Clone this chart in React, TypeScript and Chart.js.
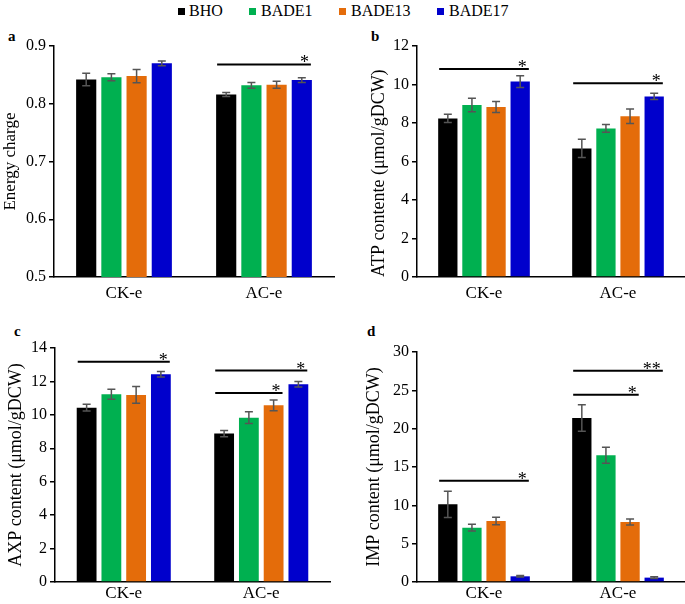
import React, { useEffect, useRef } from 'react';
import { Chart, registerables } from 'chart.js';
Chart.register(...registerables);

const FONT = '"Liberation Serif", "Times New Roman", serif';

const categories = ['CK-e', 'AC-e'];
const seriesNames = ['BHO', 'BADE1', 'BADE13', 'BADE17'];
const seriesColors = ['#000000', '#00B050', '#E46C0A', '#0000CC'];

// a: Energy charge
const ecBHO = [0.842, 0.816];
const ecBADE1 = [0.846, 0.832];
const ecBADE13 = [0.848, 0.833];
const ecBADE17 = [0.870, 0.841];
const ecErrBHO = [0.011, 0.0035];
const ecErrBADE1 = [0.006, 0.005];
const ecErrBADE13 = [0.0115, 0.006];
const ecErrBADE17 = [0.004, 0.004];

// b: ATP content
const atpBHO = [8.24, 6.68];
const atpBADE1 = [8.93, 7.72];
const atpBADE13 = [8.83, 8.35];
const atpBADE17 = [10.15, 9.38];
const atpErrBHO = [0.22, 0.47];
const atpErrBADE1 = [0.35, 0.2];
const atpErrBADE13 = [0.29, 0.38];
const atpErrBADE17 = [0.3, 0.16];

// c: AXP content
const axpBHO = [10.43, 8.88];
const axpBADE1 = [11.23, 9.83];
const axpBADE13 = [11.19, 10.57];
const axpBADE17 = [12.43, 11.83];
const axpErrBHO = [0.2, 0.19];
const axpErrBADE1 = [0.3, 0.35];
const axpErrBADE13 = [0.5, 0.32];
const axpErrBADE17 = [0.16, 0.17];

// d: IMP content
const impBHO = [10.13, 21.39];
const impBADE1 = [7.09, 16.52];
const impBADE13 = [7.96, 7.83];
const impBADE17 = [0.74, 0.57];
const impErrBHO = [1.72, 1.74];
const impErrBADE1 = [0.43, 1.04];
const impErrBADE13 = [0.5, 0.39];
const impErrBADE17 = [0.1, 0.1];

// significance brackets: category index, first/last series index, y value, label
const sigA = [{ cat: 1, from: 0, to: 3, y: 0.868, label: '*' }];
const sigB = [
  { cat: 0, from: 0, to: 3, y: 10.8, label: '*' },
  { cat: 1, from: 0, to: 3, y: 10.06, label: '*' },
];
const sigC = [
  { cat: 0, from: 0, to: 3, y: 13.17, label: '*' },
  { cat: 1, from: 0, to: 3, y: 12.65, label: '*' },
  { cat: 1, from: 0, to: 2, y: 11.31, label: '*' },
];
const sigD = [
  { cat: 0, from: 0, to: 3, y: 13.2, label: '*' },
  { cat: 1, from: 0, to: 3, y: 27.56, label: '**' },
  { cat: 1, from: 0, to: 2, y: 24.43, label: '*' },
];

type Sig = { cat: number; from: number; to: number; y: number; label: string };

interface PanelProps {
  left: number; top: number; width: number; height: number;
  padTop: number; padRight: number; yWidth: number; xHeight: number;
  yMin: number; yMax: number; step: number;
  title: string; titleSize: number; titleOffset: number; titleAlign: 'start' | 'center' | 'end';
  values: number[][]; errors: number[][]; sig: Sig[]; xLabelPad: number;
}

function Panel(p: PanelProps) {
  const ref = useRef<HTMLCanvasElement>(null);
  useEffect(() => {
    const errPlugin = {
      id: 'errBars',
      afterDatasetsDraw(chart: any) {
        const ctx = chart.ctx;
        const ys = chart.scales.y;
        chart.data.datasets.forEach((ds: any, di: number) => {
          const meta = chart.getDatasetMeta(di);
          meta.data.forEach((bar: any, i: number) => {
            const v = ds.data[i];
            const e = p.errors[di][i];
            const t = ys.getPixelForValue(v + e);
            const b = ys.getPixelForValue(v - e);
            ctx.save();
            ctx.strokeStyle = '#555555';
            ctx.lineWidth = 1.5;
            ctx.beginPath();
            ctx.moveTo(bar.x, t); ctx.lineTo(bar.x, b);
            ctx.moveTo(bar.x - 4, t); ctx.lineTo(bar.x + 4, t);
            ctx.moveTo(bar.x - 4, b); ctx.lineTo(bar.x + 4, b);
            ctx.stroke();
            ctx.restore();
          });
        });
      },
    };
    const sigPlugin = {
      id: 'sigLines',
      afterDatasetsDraw(chart: any) {
        const ctx = chart.ctx;
        const ys = chart.scales.y;
        p.sig.forEach((s) => {
          const b0 = chart.getDatasetMeta(s.from).data[s.cat];
          const b1 = chart.getDatasetMeta(s.to).data[s.cat];
          const x0 = b0.x - b0.width / 2 + 1;
          const x1 = b1.x + b1.width / 2 - 1;
          const y = ys.getPixelForValue(s.y);
          ctx.save();
          ctx.strokeStyle = '#000';
          ctx.lineWidth = 2;
          ctx.beginPath();
          ctx.moveTo(x0, y); ctx.lineTo(x1, y);
          ctx.stroke();
          ctx.fillStyle = '#000';
          ctx.font = `18px ${FONT}`;
          ctx.textAlign = 'right';
          ctx.textBaseline = 'alphabetic';
          ctx.fillText(s.label, x1 - 2, y + 4);
          ctx.restore();
        });
      },
    };
    const chart = new Chart(ref.current!, {
      type: 'bar',
      data: {
        labels: categories,
        datasets: seriesNames.map((n, i) => ({
          label: n,
          data: p.values[i],
          backgroundColor: seriesColors[i],
          borderWidth: 0,
          categoryPercentage: 0.72,
          barPercentage: 0.8,
        })),
      },
      options: {
        responsive: false,
        animation: false,
        layout: { padding: { top: p.padTop, right: p.padRight, left: 0, bottom: 0 } },
        plugins: { legend: { display: false }, tooltip: { enabled: false } },
        scales: {
          x: {
            grid: { display: false, drawTicks: false },
            border: { display: true, color: '#000', width: 1.5 },
            ticks: { font: { family: FONT, size: 17 }, color: '#000', padding: p.xLabelPad },
            afterFit: (s: any) => { s.height = p.xHeight; },
          },
          y: {
            min: p.yMin,
            max: p.yMax,
            ticks: { stepSize: p.step, font: { family: FONT, size: 16 }, color: '#000', padding: 3 },
            grid: { drawOnChartArea: false, drawTicks: true, tickLength: 5, color: '#000', lineWidth: 1.5 },
            border: { display: true, color: '#000', width: 1.5 },
            title: {
              display: true,
              text: p.title,
              font: { family: FONT, size: p.titleSize },
              color: '#000',
              padding: { top: p.titleOffset, bottom: 0 },
              align: p.titleAlign,
            },
            afterFit: (s: any) => { s.width = p.yWidth; },
          },
        },
      } as any,
      plugins: [errPlugin, sigPlugin],
    });
    return () => chart.destroy();
  }, []);
  return (
    <canvas
      ref={ref}
      width={p.width}
      height={p.height}
      style={{ position: 'absolute', left: p.left, top: p.top, width: p.width, height: p.height }}
    />
  );
}

const legendPos = [
  { sq: 178, tx: 189 },
  { sq: 249, tx: 261 },
  { sq: 339, tx: 351 },
  { sq: 437, tx: 449 },
];

const letterStyle = (left: number, top: number): React.CSSProperties => ({
  position: 'absolute', left, top, fontFamily: FONT, fontWeight: 'bold', fontSize: 15, lineHeight: '15px', color: '#000',
});

export default function App() {
  return (
    <div style={{ position: 'absolute', left: 0, top: 0, width: 685, height: 604, background: '#fff', overflow: 'hidden' }}>
      {seriesNames.map((n, i) => (
        <React.Fragment key={n}>
          <div style={{ position: 'absolute', left: legendPos[i].sq, top: 8, width: 7, height: 7, background: seriesColors[i] }} />
          <div style={{ position: 'absolute', left: legendPos[i].tx, top: 2, fontFamily: FONT, fontSize: 16, lineHeight: '18px', color: '#000' }}>{n}</div>
        </React.Fragment>
      ))}
      <div style={letterStyle(8, 29)}>a</div>
      <div style={letterStyle(371, 29)}>b</div>
      <div style={letterStyle(14, 324)}>c</div>
      <div style={letterStyle(367, 324)}>d</div>
      <Panel left={0} top={30} width={340} height={280} padTop={16} padRight={6} yWidth={54} xHeight={33}
        yMin={0.5} yMax={0.9} step={0.1} title="Energy charge" titleSize={17} titleOffset={0} titleAlign="center"
        values={[ecBHO, ecBADE1, ecBADE13, ecBADE17]} errors={[ecErrBHO, ecErrBADE1, ecErrBADE13, ecErrBADE17]}
        sig={sigA} xLabelPad={6} />
      <Panel left={340} top={30} width={345} height={280} padTop={16} padRight={0} yWidth={77} xHeight={33}
        yMin={0} yMax={12} step={2} title="ATP contente (μmol/gDCW)" titleSize={18} titleOffset={28} titleAlign="start"
        values={[atpBHO, atpBADE1, atpBADE13, atpBADE17]} errors={[atpErrBHO, atpErrBADE1, atpErrBADE13, atpErrBADE17]}
        sig={sigB} xLabelPad={6} />
      <Panel left={0} top={310} width={340} height={294} padTop={38} padRight={10} yWidth={55} xHeight={22}
        yMin={0} yMax={14} step={2} title="AXP content (μmol/gDCW)" titleSize={18} titleOffset={5} titleAlign="center"
        values={[axpBHO, axpBADE1, axpBADE13, axpBADE17]} errors={[axpErrBHO, axpErrBADE1, axpErrBADE13, axpErrBADE17]}
        sig={sigC} xLabelPad={1} />
      <Panel left={340} top={310} width={345} height={294} padTop={42} padRight={0} yWidth={77} xHeight={22}
        yMin={0} yMax={30} step={5} title="IMP content (μmol/gDCW)" titleSize={18} titleOffset={23} titleAlign="center"
        values={[impBHO, impBADE1, impBADE13, impBADE17]} errors={[impErrBHO, impErrBADE1, impErrBADE13, impErrBADE17]}
        sig={sigD} xLabelPad={1} />
    </div>
  );
}
